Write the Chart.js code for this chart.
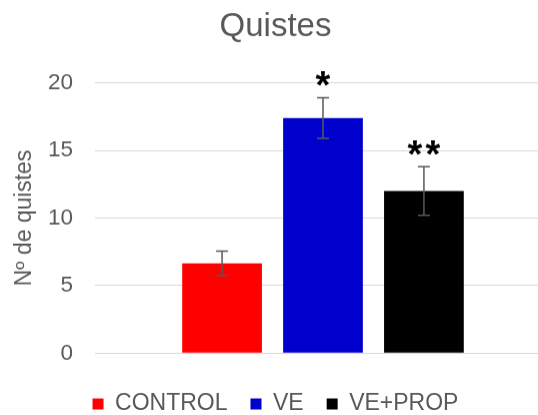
<!DOCTYPE html>
<html lang="es">
<head>
  <meta charset="UTF-8" />
  <title>Quistes</title>
  <script src="https://cdn.jsdelivr.net/npm/chart.js"></script>
  <style>
    html, body { margin: 0; overflow: hidden; background: #fff; }
    #clip { width: 538px; height: 415px; overflow: hidden; position: relative; }
    #wrap { width: 551px; height: 424.5px; }
  </style>
</head>
<body>
  <div id="clip"><div id="wrap"><canvas id="cystChart"></canvas></div></div>

  <script>
    // one category, three groups (shown in the legend)
    const categories = [''];
    const groups = ['CONTROL', 'VE', 'VE+PROP'];
    const means = [6.65, 17.4, 12.0];
    const errors = [0.9, 1.5, 1.8];
    const marks = ['', '*', '**'];
    const colors = ['#ff0000', '#0000cc', '#000000'];
    const yTicks = { min: 0, max: 20, step: 5 };

    const GREY = '#595959';
    const FONT = 'Arial, "Liberation Sans", sans-serif';
    Chart.defaults.font.family = FONT;

    // error bars + significance stars
    const errorBarPlugin = {
      id: 'errorBars',
      afterDatasetsDraw(chart) {
        const ctx = chart.ctx;
        const y = chart.scales.y;
        ctx.save();
        chart.data.datasets.forEach((ds, i) => {
          const bar = chart.getDatasetMeta(i).data[0];
          const top = y.getPixelForValue(means[i] + errors[i]);
          const bot = y.getPixelForValue(means[i] - errors[i]);
          ctx.strokeStyle = GREY;
          ctx.lineWidth = 1.5;
          ctx.beginPath();
          ctx.moveTo(bar.x, top); ctx.lineTo(bar.x, bot);
          ctx.moveTo(bar.x - 6, top); ctx.lineTo(bar.x + 6, top);
          ctx.moveTo(bar.x - 6, bot); ctx.lineTo(bar.x + 6, bot);
          ctx.stroke();

          // stars, each one drawn separately so they sit apart like the original
          const n = marks[i].length;
          if (n) {
            ctx.font = 'bold 38px ' + FONT;
            ctx.fillStyle = '#000';
            ctx.textAlign = 'center';
            ctx.textBaseline = 'alphabetic';
            const m = ctx.measureText('*');
            const cy = top - 19;
            const base = cy + (m.actualBoundingBoxAscent - m.actualBoundingBoxDescent) / 2;
            for (let k = 0; k < n; k++) {
              ctx.fillText('*', bar.x + (k - (n - 1) / 2) * 18, base);
            }
          }
        });
        ctx.restore();
      }
    };

    const datasets = groups.map((g, i) => ({
      label: g,
      data: [means[i]],
      backgroundColor: colors[i],
      borderWidth: 0,
      categoryPercentage: 0.664,
      barPercentage: 0.79
    }));

    new Chart(document.getElementById('cystChart'), {
      type: 'bar',
      data: { labels: categories, datasets: datasets },
      plugins: [errorBarPlugin],
      options: {
        responsive: true,
        maintainAspectRatio: false,
        animation: false,
        layout: { padding: 0 },
        scales: {
          x: {
            grid: { display: false },
            border: { display: false },
            ticks: { display: false },
            afterFit(scale) { scale.height = 16.2; }
          },
          y: {
            min: yTicks.min,
            max: yTicks.max,
            ticks: { stepSize: yTicks.step, color: GREY, font: { size: 22.5 }, padding: 22 },
            grid: { color: '#d9d9d9', lineWidth: 1, drawTicks: false },
            border: { display: false },
            title: { display: true, text: 'Nº de quistes', color: GREY, font: { size: 23 }, padding: 11 },
            afterFit(scale) { scale.width = 95; }
          }
        },
        plugins: {
          title: {
            display: true,
            text: 'Quistes',
            color: GREY,
            font: { size: 33, weight: 'normal' },
            padding: { top: 7.6, bottom: 35.5 }
          },
          legend: {
            position: 'bottom',
            labels: { color: GREY, font: { size: 23 }, boxWidth: 11, boxHeight: 11, padding: 23 }
          },
          tooltip: { enabled: false }
        }
      }
    });
  </script>
</body>
</html>
